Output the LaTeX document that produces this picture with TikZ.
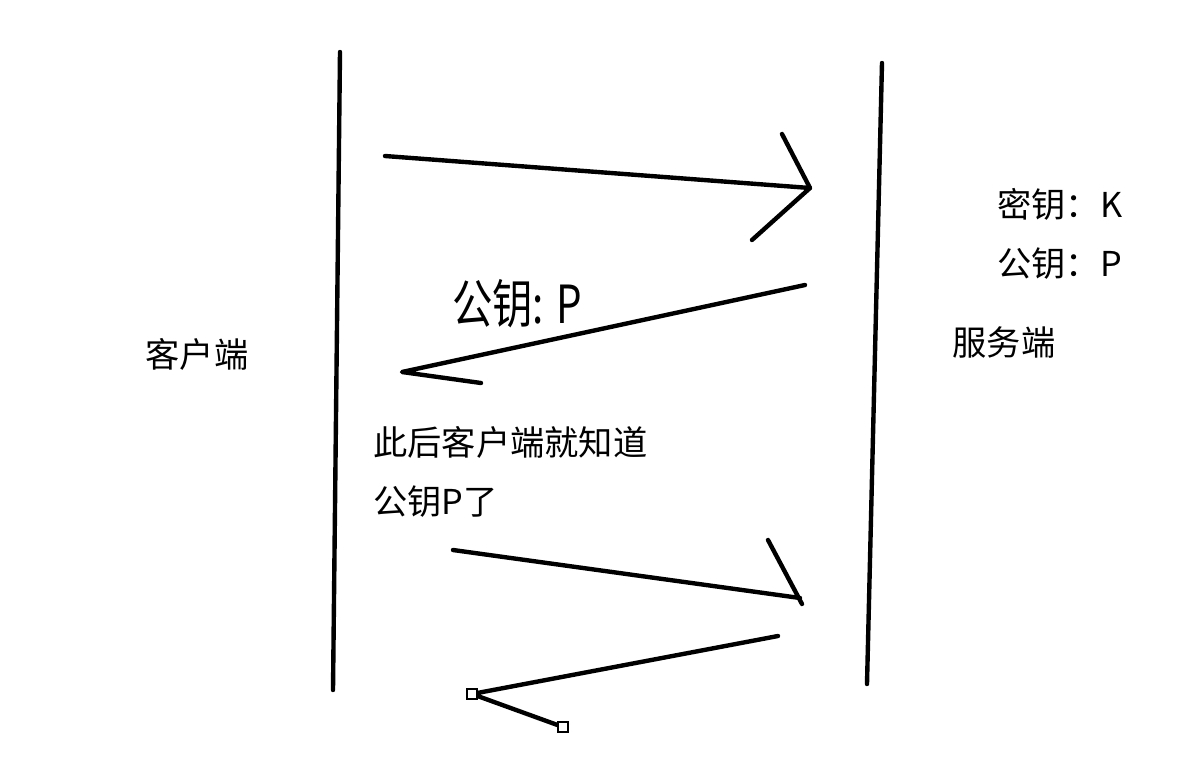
\documentclass[tikz,border=0pt]{standalone}
\usepackage{fontspec}
\newfontfamily\cjk{Noto Sans CJK SC}
\usepackage{graphicx}

\tikzset{
  pen/.style={line width=2.5pt, line cap=round, line join=round},
  handle/.style={draw, fill=white, line width=0.9pt, shape=rectangle, minimum size=0.2cm, inner sep=0pt},
  lbl/.style={font=\cjk\fontsize{19.5}{34}\selectfont, inner sep=0pt, align=left}
}

\begin{document}
\begin{tikzpicture}[x=0.02cm,y=-0.02cm]
        \useasboundingbox (0,0) rectangle (1198,768);
        % the two sides
        \draw (197,354) node (client) [lbl] {客户端};
        \draw (1004,342) node (server) [lbl] {服务端};
        \draw (997,234) node (keys) [lbl,anchor=west] {密钥：K\\公钥：P};
        \draw[pen] (340,52) coordinate (cTop) -- (333,690) coordinate (cBot);
        \draw[pen] (882,63) coordinate (sTop) -- (867,684) coordinate (sBot);
        % first request
        \coordinate (r1) at (385,156);
        \coordinate (h1) at (810,188);
        \draw[pen] (r1) -- (h1);
        \draw[pen] (782,134) -- (h1) -- (752,240);
        % public key sent back
        \coordinate (r2) at (805,285);
        \coordinate (h2) at (402,372);
        \draw[pen] (r2) -- (h2) -- (481,383);
        \draw (517,304) node (pk) [inner sep=0pt] {\scalebox{1}[1.3]{\cjk\fontsize{23}{23}\selectfont 公钥: P}};
        \draw (373,472) node (note) [lbl,anchor=west] {此后客户端就知道\\公钥P了};
        % next request
        \coordinate (r3) at (453,550);
        \coordinate (h3) at (800,598);
        \draw[pen] (r3) -- (h3);
        \draw[pen] (768,540) -- (802,604);
        % reply, still being drawn
        \coordinate (r4) at (778,636);
        \draw (472,694) node (hA) [handle] {};
        \draw (563,727) node (hB) [handle] {};
        \draw[pen] (r4) -- (hA.center) -- (hB.center);
        \draw (hA) node [handle] {};
        \draw (hB) node [handle] {};
\end{tikzpicture}
\end{document}
